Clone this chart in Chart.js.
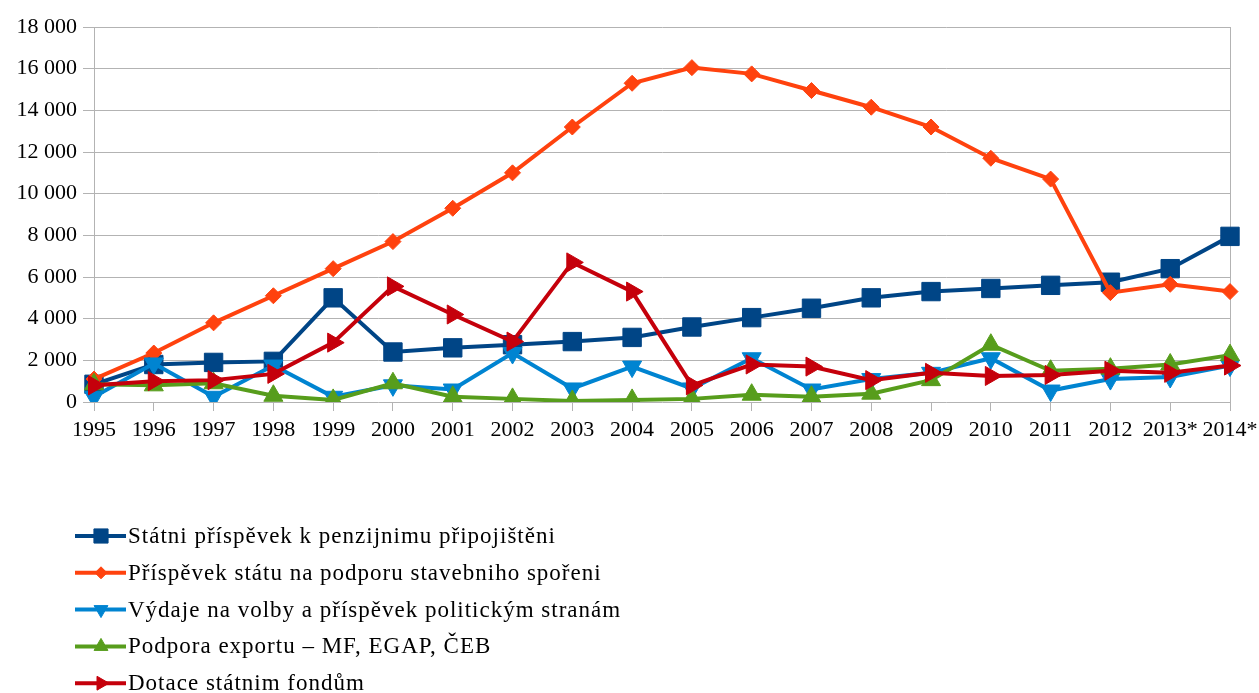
<!DOCTYPE html>
<html>
<head>
<meta charset="utf-8">
<script src="https://cdn.jsdelivr.net/npm/chart.js@4.4.1/dist/chart.umd.min.js"></script>
<style>
  html, body { margin: 0; padding: 0; background: #fff; }
  #box { width: 1259px; height: 693px; }
</style>
</head>
<body>
<div id="box"><canvas id="myChart"></canvas></div>
<script>
const roky = ['1995', '1996', '1997', '1998', '1999', '2000', '2001', '2002', '2003', '2004',
  '2005', '2006', '2007', '2008', '2009', '2010', '2011', '2012', '2013*', '2014*']

const yTicks = [0, 2000, 4000, 6000, 8000, 10000, 12000, 14000, 16000, 18000]

const nazvy = [
  'Státni příspěvek k penzijnimu připojištěni',
  'Příspěvek státu na podporu stavebniho spořeni',
  'Výdaje na volby a příspěvek politickým stranám',
  'Podpora exportu – MF, EGAP, ČEB',
  'Dotace státnim fondům'
]

const penzijni = [850, 1800, 1900, 1950, 5000, 2400, 2600, 2750, 2900, 3100,
  3600, 4050, 4500, 5000, 5300, 5450, 5600, 5750, 6400, 7950]
const stavebni = [1100, 2350, 3800, 5100, 6400, 7700, 9300, 11000, 13200, 15300,
  16050, 15750, 14950, 14150, 13200, 11700, 10700, 5250, 5650, 5300]
const volby = [250, 1850, 250, 1750, 250, 800, 600, 2350, 650, 1700,
  650, 2100, 600, 1100, 1400, 2100, 550, 1100, 1200, 1750]
const export_ = [850, 800, 900, 300, 100, 900, 250, 150, 50, 100,
  150, 350, 250, 400, 1050, 2750, 1500, 1600, 1800, 2250]
const dotace = [800, 1000, 1050, 1350, 2850, 5550, 4200, 2900, 6700, 5300,
  800, 1800, 1700, 1050, 1400, 1250, 1300, 1500, 1400, 1750]

const barvy = ['#004586', '#ff420e', '#0084d1', '#579d1c', '#c5000b']
const tvary = [
  { style: 'rect', rot: 0, r: 13, lr: 10 },
  { style: 'rectRot', rot: 0, r: 8, lr: 6 },
  { style: 'triangle', rot: 180, r: 11, lr: 8 },
  { style: 'triangle', rot: 0, r: 11, lr: 8 },
  { style: 'triangle', rot: 90, r: 11, lr: 8 }
]

const serie = [penzijni, stavebni, volby, export_, dotace]

// legenda pod grafem, kazda polozka na svem radku
const legendaPlugin = {
  id: 'legendaPodSebou',
  afterDraw(chart) {
    const ctx = chart.ctx
    const startY = 536
    const krok = 36.8
    ctx.save()
    ctx.font = '23px "Liberation Serif", "Times New Roman", serif'
    ctx.letterSpacing = '1px'
    ctx.textBaseline = 'middle'
    chart.data.datasets.forEach((ds, i) => {
      const y = startY + i * krok
      ctx.strokeStyle = ds.borderColor
      ctx.fillStyle = ds.borderColor
      ctx.lineWidth = 4
      ctx.beginPath()
      ctx.moveTo(75, y)
      ctx.lineTo(126, y)
      ctx.stroke()
      ctx.lineWidth = 1
      Chart.helpers.drawPoint(ctx, {
        pointStyle: tvary[i].style,
        rotation: tvary[i].rot,
        radius: tvary[i].lr,
        borderWidth: 1
      }, 101, y)
      ctx.fillStyle = '#000'
      ctx.fillText(ds.label, 128, y + 1)
    })
    ctx.letterSpacing = '0px'
    ctx.restore()
  }
}

const ctx = document.getElementById('myChart').getContext('2d')

new Chart(ctx, {
  type: 'line',
  data: {
    labels: roky,
    datasets: serie.map((hodnoty, i) => ({
      label: nazvy[i],
      data: hodnoty,
      borderColor: barvy[i],
      backgroundColor: barvy[i],
      borderWidth: 4,
      pointStyle: tvary[i].style,
      pointRotation: tvary[i].rot,
      pointRadius: tvary[i].r,
      pointBorderWidth: 1,
      tension: 0,
      order: 4 - i
    }))
  },
  plugins: [legendaPlugin],
  options: {
    responsive: true,
    maintainAspectRatio: false,
    animation: false,
    events: [],
    layout: { padding: { top: 27, right: 29, left: 0, bottom: 0 } },
    plugins: {
      legend: { display: false },
      tooltip: { enabled: false }
    },
    scales: {
      x: {
        offset: false,
        grid: {
          drawOnChartArea: true,
          color: c => (c.index === roky.length - 1 ? '#b3b3b3' : 'rgba(0,0,0,0)'),
          tickColor: '#b3b3b3',
          tickLength: 9,
          lineWidth: 1
        },
        border: { display: false },
        ticks: {
          color: '#000',
          font: { family: '"Liberation Serif", "Times New Roman", serif', size: 22 },
          padding: 6,
          maxRotation: 0,
          autoSkip: false
        },
        afterFit: s => {
          s.height = 291
          s.paddingLeft = 0
          s.paddingRight = 0
        }
      },
      y: {
        min: 0,
        max: 18000,
        afterBuildTicks: s => { s.ticks = yTicks.map(v => ({ value: v })) },
        grid: {
          color: '#b3b3b3',
          tickColor: '#b3b3b3',
          tickLength: 11,
          lineWidth: 1
        },
        border: { display: true, color: '#b3b3b3', width: 1 },
        ticks: {
          color: '#000',
          font: { family: '"Liberation Serif", "Times New Roman", serif', size: 22 },
          padding: 6,
          callback: v => String(v).replace(/\B(?=(\d{3})+(?!\d))/g, ' ')
        },
        afterFit: s => { s.width = 94 }
      }
    }
  }
})
</script>
</body>
</html>
